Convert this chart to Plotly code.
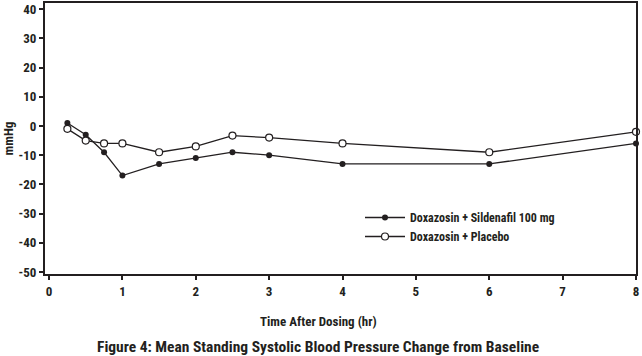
import plotly.graph_objects as go

time_hr = [0.25, 0.5, 0.75, 1.0, 1.5, 2.0, 2.5, 3.0, 4.0, 6.0, 8.0]
sildenafil = [1, -3, -9, -17, -13, -11, -9, -10, -13, -13, -6]
placebo = [-1, -5, -6, -6, -9, -7, -3.3, -4, -6, -9, -2]
x_ticks = [0, 1, 2, 3, 4, 5, 6, 7, 8]
y_ticks = [40, 30, 20, 10, 0, -10, -20, -30, -40, -50]

FONT = "Roboto Condensed, Noto Sans Condensed, Liberation Sans Narrow, DejaVu Sans Condensed, sans-serif"
INK = "#231f20"

fig = go.Figure()
fig.add_trace(go.Scatter(
    x=time_hr, y=sildenafil, mode="lines+markers",
    name="Doxazosin + Sildenafil 100 mg",
    line=dict(color=INK, width=1.3),
    marker=dict(symbol="circle", size=6, color=INK),
    cliponaxis=False,
))
fig.add_trace(go.Scatter(
    x=time_hr, y=placebo, mode="lines+markers",
    name="Doxazosin + Placebo",
    line=dict(color=INK, width=1.3),
    marker=dict(symbol="circle", size=7, color="white", line=dict(color=INK, width=1.2)),
    cliponaxis=False,
))

fig.update_layout(
    width=642, height=356,
    margin=dict(l=45, r=6, t=3, b=82),
    paper_bgcolor="white", plot_bgcolor="white",
    font=dict(family=FONT, size=12, color=INK, weight="bold"),
    showlegend=True,
    legend=dict(
        x=0.533, y=0.262, xanchor="left", yanchor="top",
        bgcolor="rgba(0,0,0,0)", font=dict(size=12, family=FONT, weight="bold"),
        itemwidth=40, tracegroupgap=0,
    ),
    xaxis=dict(
        range=[-0.055, 8.0], tickvals=x_ticks, ticktext=[str(v) for v in x_ticks],
        showgrid=False, zeroline=False, showline=True, linecolor=INK, linewidth=2,
        mirror=True, ticks="outside", ticklen=4, tickwidth=1.5, tickcolor=INK,
        automargin=False, tickfont=dict(size=13),
    ),
    yaxis=dict(
        range=[-50.7, 42.1], tickvals=y_ticks, ticktext=[str(v) for v in y_ticks],
        showgrid=False, zeroline=False, showline=True, linecolor=INK, linewidth=2,
        mirror=True, ticks="outside", ticklen=4, tickwidth=1.5, tickcolor=INK,
        automargin=False, tickfont=dict(size=13),
        title=dict(text="mmHg", font=dict(size=13, family=FONT, weight="bold"), standoff=2),
    ),
    annotations=[
        dict(
            text="Time After Dosing (hr)",
            xref="paper", yref="paper", x=0.462, y=-0.177, xanchor="center", yanchor="middle",
            showarrow=False, font=dict(size=13, family=FONT, weight="bold", color=INK),
        ),
        dict(
            text="Figure 4: Mean Standing Systolic Blood Pressure Change from Baseline",
            xref="paper", yref="paper", x=0.462, y=-0.228, xanchor="center", yanchor="top",
            showarrow=False, font=dict(size=15.5, family=FONT, weight="bold", color=INK),
        ),
    ],
)

fig.write_html("out.html", config={"displayModeBar": False},
               post_script="document.body.style.margin='0';")
